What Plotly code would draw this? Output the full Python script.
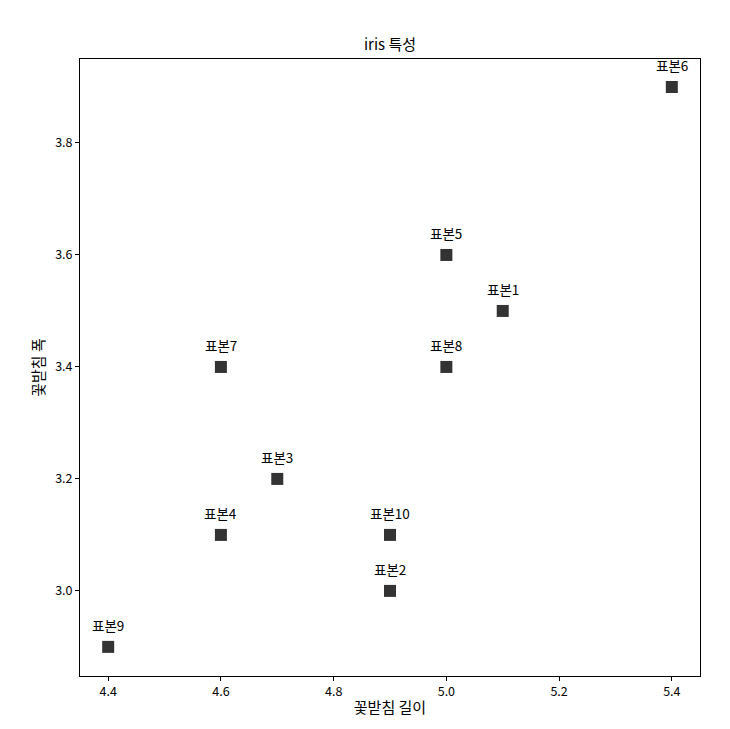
import plotly.graph_objects as go

labels = ["표본1", "표본2", "표본3", "표본4", "표본5", "표본6", "표본7", "표본8", "표본9", "표본10"]
sepal_length = [5.1, 4.9, 4.7, 4.6, 5.0, 5.4, 4.6, 5.0, 4.4, 4.9]
sepal_width = [3.5, 3.0, 3.2, 3.1, 3.6, 3.9, 3.4, 3.4, 2.9, 3.1]
x_ticks = [4.4, 4.6, 4.8, 5.0, 5.2, 5.4]
y_ticks = [3.0, 3.2, 3.4, 3.6, 3.8]

FONT = "Noto Sans CJK KR, Malgun Gothic, sans-serif"

fig = go.Figure()
fig.add_trace(go.Scatter(
    x=sepal_length, y=sepal_width, mode="markers",
    marker=dict(symbol="square", size=12, color="#333333", line=dict(width=0)),
    showlegend=False, hoverinfo="skip",
))
for lab, x, y in zip(labels, sepal_length, sepal_width):
    fig.add_annotation(x=x, y=y, text=lab, showarrow=False, yshift=22,
                       font=dict(family=FONT, size=13.5, color="#000000"))

axis_common = dict(showgrid=False, zeroline=False, showline=True, linecolor="black",
                   linewidth=1, mirror=True, ticks="outside", ticklen=4, tickwidth=1,
                   tickcolor="black", tickfont=dict(family=FONT, size=12.5, color="#000000"))
fig.update_xaxes(range=[4.35, 5.45], tickvals=x_ticks, ticktext=[f"{v:.1f}" for v in x_ticks],
                 title=dict(text="꽃받침 길이", font=dict(family=FONT, size=15, color="#000000"), standoff=3),
                 **axis_common)
fig.update_yaxes(range=[2.848, 3.95], tickvals=y_ticks, ticktext=[f"{v:.1f}" for v in y_ticks],
                 title=dict(text="꽃받침 폭", font=dict(family=FONT, size=15, color="#000000"), standoff=6),
                 **axis_common)
fig.update_layout(
    width=730, height=729,
    margin=dict(l=72, r=38, t=51, b=61),
    plot_bgcolor="white", paper_bgcolor="white",
    title=dict(text="iris 특성", x=0.5, xref="paper", xanchor="center",
               y=1 - 37/729, yanchor="middle",
               font=dict(family=FONT, size=15, color="#000000")),
)
fig.write_html("out.html")
